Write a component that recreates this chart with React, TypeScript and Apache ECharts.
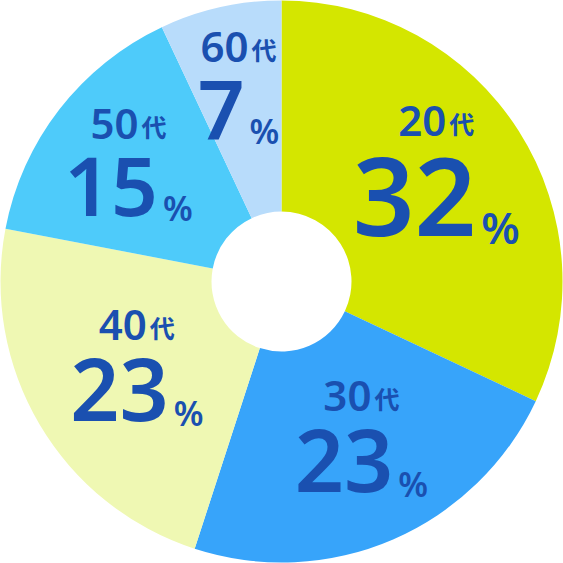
import { useEffect, useRef } from "react";
import * as echarts from "echarts";

const ages = ["20", "30", "40", "50", "60"];
const shares = [32, 23, 23, 15, 7];
const colors = ["#d4e600", "#37a4fa", "#eff8b3", "#4ecbfa", "#b8dcfb"];
const bigSizes = [108, 86, 86, 82, 82];
const pctSizes = [44, 34, 34, 34, 34];
// shift of each label from the default "inside" point (px)
const shifts = [
  [4, -13],
  [9, -9],
  [9, -7],
  [-12, -10],
  [-4, -22],
];

const FONT = "'Noto Sans', 'Noto Sans CJK JP', sans-serif";
const TEXT = "#1a50b0";

const App = () => {
  const chartRef = useRef(null);

  useEffect(() => {
    document.body.style.margin = "0";
    const chart = echarts.init(chartRef.current, null, { renderer: "svg" });

    const option: any = {
      animation: false,
      series: [
        {
          type: "pie",
          center: ["50%", "50%"],
          radius: [70, 281],
          startAngle: 90,
          clockwise: true,
          silent: true,
          itemStyle: { borderWidth: 0 },
          labelLine: { show: false },
          data: shares.map((v, i) => {
            const [dx, dy] = shifts[i];
            return {
              name: ages[i] + "代",
              value: v,
              itemStyle: { color: colors[i] },
              label: {
                show: true,
                position: "inside",
                align: "center",
                padding: [
                  dy > 0 ? dy * 2 : 0,
                  dx < 0 ? -dx * 2 : 0,
                  dy < 0 ? -dy * 2 : 0,
                  dx > 0 ? dx * 2 : 0,
                ],
                formatter: `{a|${ages[i]}}{b|代}\n{c${i}|${v}}{d${i}|%}`,
                rich: {
                  a: {
                    fontFamily: FONT,
                    fontSize: 42,
                    fontWeight: 600,
                    color: TEXT,
                    lineHeight: 44,
                    verticalAlign: "bottom",
                  },
                  b: {
                    fontFamily: FONT,
                    fontSize: 25,
                    fontWeight: 600,
                    color: TEXT,
                    lineHeight: 44,
                    verticalAlign: "bottom",
                    padding: [0, 0, 4, 3],
                  },
                  ["c" + i]: {
                    fontFamily: FONT,
                    fontSize: bigSizes[i],
                    fontWeight: 600,
                    color: TEXT,
                    lineHeight: bigSizes[i],
                    verticalAlign: "bottom",
                  },
                  ["d" + i]: {
                    fontFamily: FONT,
                    fontSize: pctSizes[i],
                    fontWeight: 600,
                    color: TEXT,
                    lineHeight: bigSizes[i],
                    verticalAlign: "bottom",
                    padding: [0, 0, 0, 5],
                  },
                },
              },
            };
          }),
        },
      ],
    };

    chart.setOption(option);

    return () => {
      chart.dispose();
    };
  }, []);

  return <div ref={chartRef} style={{ width: "563px", height: "563px" }} />;
};

export default App;
